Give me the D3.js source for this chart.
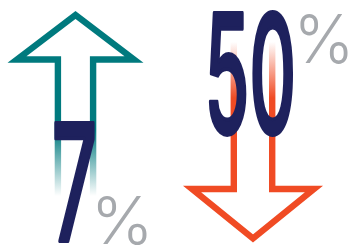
<!DOCTYPE html>
<html><head><meta charset="utf-8">
<script src="https://cdn.jsdelivr.net/npm/d3@7"></script>
<style>html,body{margin:0;padding:0;background:#fff;}svg{display:block;}</style>
</head><body>
<script>
// data
const categories = ["Increase", "Decrease"];
const values = [7, 50];
const directions = ["up", "down"];
const unit = "%";

const W = 351, H = 249;
const svg = d3.select("body").append("svg").attr("width", W).attr("height", H);
const defs = svg.append("defs");

const x = d3.scalePoint().domain(categories).range([75.5, 253]);
const colors = d3.scaleOrdinal().domain(categories).range(["#007A7E", "#F04B24"]);

// gradients for the fading shafts
const g1 = defs.append("linearGradient").attr("id", "fadeUp").attr("gradientUnits", "userSpaceOnUse")
  .attr("x1", 0).attr("y1", 130).attr("x2", 0).attr("y2", 196);
g1.append("stop").attr("offset", 0).attr("stop-color", colors(categories[0])).attr("stop-opacity", 1);
g1.append("stop").attr("offset", 1).attr("stop-color", colors(categories[0])).attr("stop-opacity", 0);
const g2 = defs.append("linearGradient").attr("id", "fadeDown").attr("gradientUnits", "userSpaceOnUse")
  .attr("x1", 0).attr("y1", 42).attr("x2", 0).attr("y2", 98);
g2.append("stop").attr("offset", 0).attr("stop-color", colors(categories[1])).attr("stop-opacity", 0);
g2.append("stop").attr("offset", 1).attr("stop-color", colors(categories[1])).attr("stop-opacity", 1);

function arrowPath(cx, dir) {
  const p = d3.path();
  if (dir === "up") {
    const hw = 17.6, head = 58.5, baseY = 59.5, tipY = 15, endY = 197;
    p.moveTo(cx - hw, endY); p.lineTo(cx - hw, baseY); p.lineTo(cx - head, baseY);
    p.lineTo(cx, tipY); p.lineTo(cx + head, baseY); p.lineTo(cx + hw, baseY); p.lineTo(cx + hw, endY);
  } else {
    const hw = 19.2, head = 61, baseY = 189, tipY = 238.5, endY = 40;
    p.moveTo(cx - hw, endY); p.lineTo(cx - hw, baseY); p.lineTo(cx - head, baseY);
    p.lineTo(cx, tipY); p.lineTo(cx + head, baseY); p.lineTo(cx + hw, baseY); p.lineTo(cx + hw, endY);
  }
  return p.toString();
}

svg.selectAll("path.arrow").data(categories).join("path").attr("class", "arrow")
  .attr("d", (c, i) => arrowPath(x(c), directions[i]))
  .attr("fill", "none")
  .attr("stroke", (c, i) => directions[i] === "up" ? "url(#fadeUp)" : "url(#fadeDown)")
  .attr("stroke-width", 6.4)
  .attr("stroke-linejoin", "miter").attr("stroke-miterlimit", 10);

// text fitting via canvas ink metrics
const ctx = document.createElement("canvas").getContext("2d");
function fitText(text, weight, family, box, fill, thicken) {
  ctx.font = `${weight} 100px ${family}`;
  const m = ctx.measureText(text);
  const inkW = m.actualBoundingBoxLeft + m.actualBoundingBoxRight;
  const inkH = m.actualBoundingBoxAscent + m.actualBoundingBoxDescent;
  const t = thicken || 0;
  const bw = box[2] - box[0] - t, bh = box[3] - box[1] - t;
  const sx = bw / inkW, sy = bh / inkH;
  const el = svg.append("text").text(text)
    .attr("font-family", family).attr("font-weight", weight).attr("font-size", 100)
    .attr("fill", fill)
    .attr("transform", `translate(${box[0] + t / 2 + m.actualBoundingBoxLeft * sx},${box[1] + t / 2 + m.actualBoundingBoxAscent * sy}) scale(${sx},${sy})`);
  if (t) el.attr("stroke", fill).attr("stroke-width", t).attr("vector-effect", "non-scaling-stroke")
    .attr("stroke-linejoin", "round");
}

const digitFont = "Inter, 'Open Sans', sans-serif";
const pctFont = "Inter, Roboto, sans-serif";
const navy = "#1E215D", gray = "#A6A9AD";
const boxes = {
  "up":   {num: [53.5, 121, 95.5, 242.5], pct: [97.5, 195, 146.5, 245.5]},
  "down": {num: [208, 10, 294.5, 136.5], pct: [300, 13, 347.5, 64.5]}
};
values.forEach((v, i) => {
  const b = boxes[directions[i]];
  fitText(String(v), 500, digitFont, b.num, navy, 3);
  fitText(unit, 300, pctFont, b.pct, gray, 0);
});
</script>
</body></html>
